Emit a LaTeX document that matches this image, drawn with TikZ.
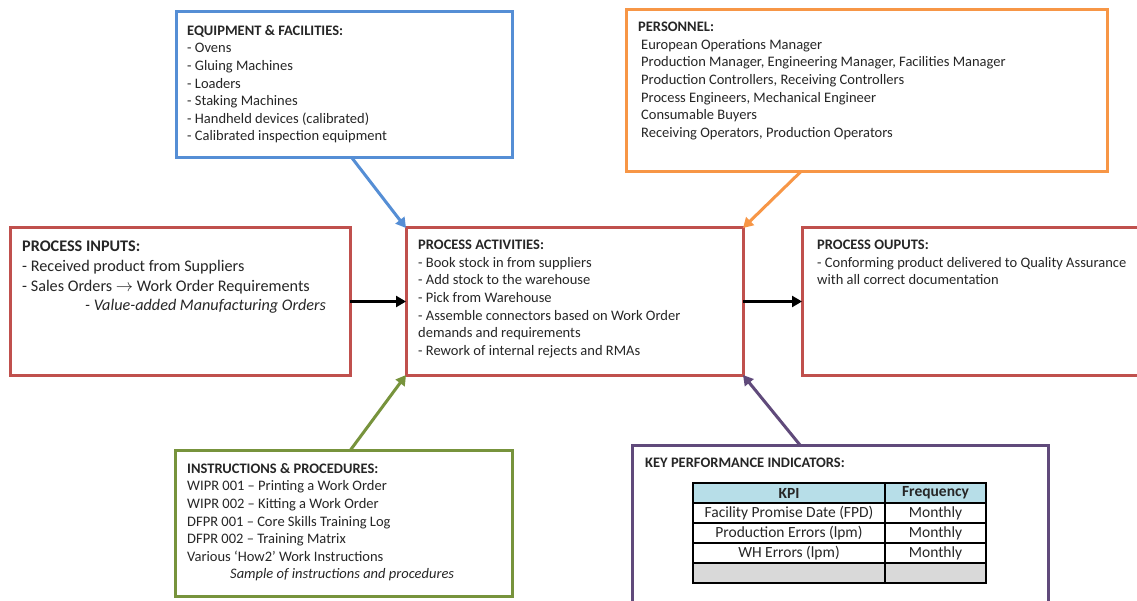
\documentclass[tikz,border=0pt]{standalone}
\usepackage{fontspec}
\setmainfont{Carlito}
\usetikzlibrary{arrows.meta,positioning}

\definecolor{boxblue}{HTML}{558ED5}
\definecolor{boxorange}{HTML}{F79646}
\definecolor{boxred}{HTML}{C0504D}
\definecolor{boxgreen}{HTML}{77933C}
\definecolor{boxpurple}{HTML}{604A7B}
\definecolor{kpihead}{HTML}{B7DEE8}
\definecolor{kpigray}{HTML}{D9D9D9}
\definecolor{ink}{HTML}{262626}

\tikzset{
    panel/.style={draw=#1, line width=3pt, fill=white, anchor=north west, inner sep=0pt, outer sep=0pt},
    paneltext/.style={anchor=north west, align=left, inner sep=0pt, text=ink,
        font=\fontsize{14.5}{17.6}\selectfont},
    flow/.style={line width=3pt, -{Triangle[length=10pt,width=11pt]}},
    cell/.style={draw=black, line width=1.1pt, anchor=north west, minimum height=20, inner sep=0pt,
        outer sep=0pt, text=ink, font=\fontsize{15.5}{16}\selectfont},
}

\begin{document}
\begin{tikzpicture}[x=1pt,y=-1pt]
    \clip (0,0) rectangle (1137,601);
    \fill[white] (0,0) rectangle (1137,601);

    % Cajas del proceso
    \node[panel=boxblue, minimum width=336, minimum height=146] (equip) at (176,12) {};
    \node[panel=boxorange, minimum width=481, minimum height=162] (staff) at (626,10) {};
    \node[panel=boxred, minimum width=340, minimum height=147] (inputs) at (10,228) {};
    \node[panel=boxred, minimum width=337, minimum height=147] (act) at (406,228) {};
    \node[panel=boxred, minimum width=340, minimum height=147] (outputs) at (802,228) {};
    \node[panel=boxgreen, minimum width=337, minimum height=146] (instr) at (175,450) {};
    \node[panel=boxpurple, minimum width=416, minimum height=170] (kpi) at (632,445) {};

    % Textos de cada caja
    \node[paneltext] (equip-txt) at (187,25) {\textbf{EQUIPMENT \& FACILITIES:}\\
        - Ovens\\
        - Gluing Machines\\
        - Loaders\\
        - Staking Machines\\
        - Handheld devices (calibrated)\\
        - Calibrated inspection equipment};
    \node[paneltext] (staff-txt) at (638,22) {\textbf{PERSONNEL:}\\
        \hspace*{3pt}European Operations Manager\\
        \hspace*{3pt}Production Manager, Engineering Manager, Facilities Manager\\
        \hspace*{3pt}Production Controllers, Receiving Controllers\\
        \hspace*{3pt}Process Engineers, Mechanical Engineer\\
        \hspace*{3pt}Consumable Buyers\\
        \hspace*{3pt}Receiving Operators, Production Operators};
    \node[paneltext, font=\fontsize{16.2}{19.6}\selectfont] (inputs-txt) at (22,241) {\textbf{PROCESS INPUTS:}\\
        - Received product from Suppliers\\
        - Sales Orders $\rightarrow$ Work Order Requirements\\
        \hspace*{63pt}\textit{- Value-added Manufacturing Orders}};
    \node[paneltext] (act-txt) at (418,240) {\textbf{PROCESS ACTIVITIES:}\\
        - Book stock in from suppliers\\
        - Add stock to the warehouse\\
        - Pick from Warehouse\\
        - Assemble connectors based on Work Order\\
        demands and requirements\\
        - Rework of internal rejects and RMAs};
    \node[paneltext] (outputs-txt) at (817,240) {\textbf{PROCESS OUPUTS:}\\
        - Conforming product delivered to Quality Assurance\\
        with all correct documentation};
    \node[paneltext] (instr-txt) at (187,463) {\textbf{INSTRUCTIONS \& PROCEDURES:}\\
        WIPR 001 -- Printing a Work Order\\
        WIPR 002 -- Kitting a Work Order\\
        DFPR 001 -- Core Skills Training Log\\
        DFPR 002 -- Training Matrix\\
        Various ‘How2’ Work Instructions\\
        \hspace*{43pt}\textit{Sample of instructions and procedures}};
    \node[paneltext] (kpi-txt) at (645,458) {\textbf{KEY PERFORMANCE INDICATORS:}};

    % Tabla de indicadores
    \foreach \y/\kname/\freq/\shade in {483/\textbf{KPI}/\textbf{Frequency}/kpihead,
            503/Facility Promise Date (FPD)/Monthly/white,
            523/Production Errors (lpm)/Monthly/white,
            543/WH Errors (lpm)/Monthly/white,
            563/{}/{}/kpigray}{
        \node[cell, fill=\shade, minimum width=192] (kpi-\y) at (693,\y) {\kname};
        \node[cell, fill=\shade, minimum width=101, right=0pt of kpi-\y] (freq-\y) {\freq};
    }

    % Flechas hacia las actividades
    \draw[flow, boxblue] ([xshift=8]equip.south) -- (act.north west);
    \draw[flow, boxorange] ([xshift=-66]staff.south) -- (act.north east);
    \draw[flow, boxgreen] ([xshift=7]instr.north) -- (act.south west);
    \draw[flow, boxpurple] ([xshift=-40]kpi.north) -- (act.south east);
    \draw[flow, black] (inputs.east) -- (act.west);
    \draw[flow, black] (act.east) -- (outputs.west);
\end{tikzpicture}
\end{document}
